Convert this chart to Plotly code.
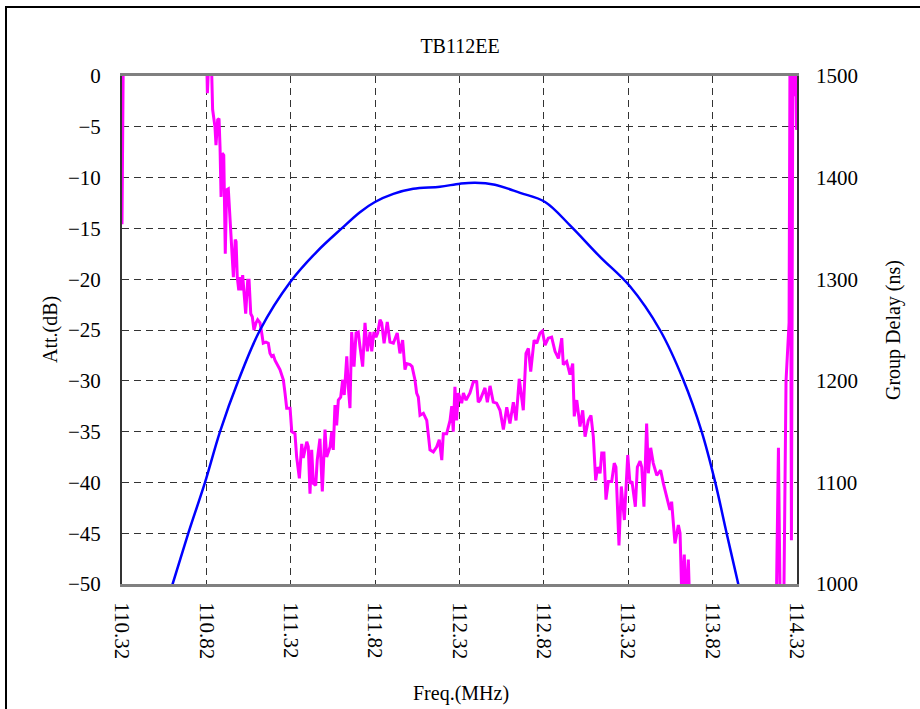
import plotly.graph_objects as go

# Attenuation (magenta), frequency in MHz, value in dB
att_freq = [
    110.320, 110.329, 110.818, 110.822, 110.826, 110.833, 110.844, 110.852, 110.857, 110.871,
    110.877, 110.887, 110.895, 110.901, 110.907, 110.914, 110.923, 110.932, 110.940, 110.950,
    110.960, 110.970, 110.980, 110.991, 110.996, 111.003, 111.012, 111.019, 111.027, 111.035,
    111.045, 111.053, 111.065, 111.073, 111.083, 111.092, 111.102, 111.114, 111.124, 111.138,
    111.148, 111.157, 111.173, 111.187, 111.197, 111.207, 111.217, 111.227, 111.256, 111.276,
    111.286, 111.296, 111.316, 111.326, 111.345, 111.355, 111.371, 111.385, 111.394, 111.415,
    111.424, 111.434, 111.444, 111.454, 111.468, 111.477, 111.493, 111.507, 111.523, 111.533,
    111.553, 111.563, 111.572, 111.582, 111.592, 111.602, 111.616, 111.628, 111.637, 111.652,
    111.661, 111.671, 111.681, 111.695, 111.707, 111.720, 111.730, 111.746, 111.760, 111.774,
    111.790, 111.800, 111.813, 111.825, 111.835, 111.849, 111.859, 111.873, 111.892, 111.908,
    111.928, 111.951, 111.967, 111.983, 111.997, 112.007, 112.027, 112.039, 112.056, 112.066,
    112.076, 112.086, 112.106, 112.126, 112.145, 112.165, 112.185, 112.200, 112.215, 112.224,
    112.244, 112.264, 112.274, 112.283, 112.293, 112.303, 112.313, 112.333, 112.343, 112.359,
    112.382, 112.402, 112.422, 112.431, 112.442, 112.471, 112.485, 112.501, 112.520, 112.540,
    112.560, 112.580, 112.600, 112.619, 112.639, 112.655, 112.674, 112.698, 112.714, 112.728,
    112.742, 112.762, 112.778, 112.797, 112.811, 112.827, 112.846, 112.866, 112.886, 112.906,
    112.926, 112.935, 112.955, 112.975, 112.991, 113.000, 113.015, 113.034, 113.050, 113.064,
    113.083, 113.099, 113.113, 113.127, 113.139, 113.153, 113.163, 113.176, 113.188, 113.202,
    113.222, 113.237, 113.247, 113.265, 113.279, 113.297, 113.317, 113.330, 113.342, 113.362,
    113.374, 113.390, 113.400, 113.413, 113.429, 113.439, 113.453, 113.468, 113.489, 113.512,
    113.528, 113.544, 113.557, 113.567, 113.577, 113.597, 113.617, 113.627, 113.637, 113.652,
    113.662, 113.676, 113.686, 113.745, 114.101, 114.195, 114.210, 114.222, 114.240, 114.255,
    114.273, 114.279, 114.287, 114.296, 114.305, 114.311, 114.317, 114.320,
]
att_db = [
    -14.6, 5.0, 5.0, 1.0, -1.7, 1.0, 1.0, 0.0, -3.3, -5.0,
    -6.8, -4.3, -4.2, -7.0, -11.9, -7.6, -7.8, -17.5, -11.2, -11.1,
    -14.5, -16.8, -19.8, -16.1, -16.3, -19.8, -21.1, -19.8, -21.1, -19.6,
    -21.4, -23.4, -20.1, -20.1, -23.4, -23.7, -25.0, -24.3, -24.0, -24.3,
    -25.3, -26.3, -26.2, -26.3, -27.3, -27.6, -27.5, -28.0, -28.9, -29.9,
    -31.2, -32.7, -32.7, -35.0, -35.2, -37.5, -39.6, -36.2, -37.6, -36.0,
    -36.5, -41.1, -36.8, -40.1, -40.3, -37.8, -35.7, -40.9, -34.8, -37.5,
    -36.5, -35.0, -36.8, -32.4, -34.4, -31.9, -31.6, -29.9, -31.4, -27.6,
    -30.6, -32.7, -25.2, -28.6, -25.3, -25.2, -26.6, -28.6, -24.3, -27.1,
    -25.2, -27.1, -25.2, -25.7, -25.3, -24.0, -24.3, -26.3, -24.2, -26.2,
    -26.3, -25.3, -27.3, -26.0, -28.9, -28.3, -28.4, -28.6, -29.9, -31.2,
    -31.6, -33.4, -33.2, -33.9, -36.8, -37.0, -36.5, -35.8, -37.8, -35.2,
    -35.2, -33.9, -32.5, -35.0, -30.6, -33.9, -31.2, -32.2, -31.2, -31.9,
    -31.2, -30.1, -30.1, -32.1, -31.9, -30.7, -32.1, -30.5, -32.1, -32.2,
    -32.9, -34.8, -32.6, -34.2, -32.1, -33.9, -29.8, -32.9, -27.3, -26.8,
    -29.1, -26.0, -26.3, -25.3, -25.1, -26.5, -25.8, -25.7, -27.1, -27.8,
    -25.8, -28.4, -28.1, -29.4, -28.3, -33.5, -31.9, -34.5, -32.9, -35.5,
    -33.9, -33.4, -35.5, -39.8, -38.5, -39.1, -37.1, -37.1, -41.7, -39.9,
    -39.9, -38.1, -38.5, -46.2, -40.4, -43.7, -37.3, -40.1, -39.9, -42.4,
    -38.5, -37.9, -38.5, -42.4, -34.2, -39.1, -36.6, -38.1, -39.3, -38.8,
    -40.1, -41.1, -41.9, -42.7, -41.9, -46.0, -44.2, -45.0, -51.0, -47.1,
    -52.0, -47.6, -53.0, -58.0, -58.0, -55.0, -36.6, -55.0, -55.0, -30.0,
    -24.3, 5.0, -45.7, 5.0, -2.0, 5.0, -5.3, -4.0,
]

# Group delay (blue), frequency in MHz, value in ns
gd_freq = [110.580, 110.620, 110.713, 110.812, 110.901, 111.009, 111.138, 111.316, 111.474,
           111.622, 111.730, 111.819, 111.928, 112.046, 112.204, 112.323, 112.412, 112.530,
           112.679, 112.827, 112.975, 113.153, 113.330, 113.508, 113.646, 113.755, 113.834,
           113.903, 113.972, 114.000]
gd_ns = [980, 1000, 1050, 1100, 1150, 1200, 1250, 1297, 1327,
         1350, 1366, 1376, 1384, 1389, 1391, 1394, 1395, 1393,
         1385, 1376, 1353, 1322, 1293, 1250, 1201, 1150, 1101,
         1050, 1000, 980]

x_ticks = [110.32, 110.82, 111.32, 111.82, 112.32, 112.82, 113.32, 113.82, 114.32]
x_labels = ["110.32", "110.82", "111.32", "111.82", "112.32", "112.82", "113.32", "113.82", "114.32"]
y_ticks = [0, -5, -10, -15, -20, -25, -30, -35, -40, -45, -50]
y2_ticks = [1000, 1100, 1200, 1300, 1400, 1500]

FONT = "Liberation Serif"

fig = go.Figure()
fig.add_trace(go.Scatter(x=att_freq, y=att_db, mode="lines",
                         line=dict(color="#FF00FF", width=3), yaxis="y", showlegend=False))
fig.add_trace(go.Scatter(x=gd_freq, y=gd_ns, mode="lines",
                         line=dict(color="#0000FF", width=2.5, shape="spline", smoothing=1.0),
                         yaxis="y2", showlegend=False))

grid = dict(showgrid=True, gridcolor="#333333", gridwidth=1, griddash="7px,5px")

fig.update_layout(
    width=920, height=709,
    margin=dict(l=122, r=123, t=76, b=125),
    paper_bgcolor="white", plot_bgcolor="white",
    font=dict(family=FONT, size=21, color="black"),
    title=dict(text="TB112EE", x=0.5, xanchor="center", y=1 - 46 / 709, yanchor="middle",
               font=dict(family=FONT, size=20, color="black")),
    xaxis=dict(range=[110.32, 114.32], tickmode="array", tickvals=x_ticks, ticktext=x_labels,
               tickangle=90, ticks="", ticklabelstandoff=11,
               showline=True, linecolor="#808080", linewidth=3, mirror=True, zeroline=False,
               **grid),
    yaxis=dict(range=[-50, 0], tickmode="array", tickvals=y_ticks, ticks="",
               ticklabelstandoff=15,
               showline=True, linecolor="#333333", linewidth=2, mirror=True, zeroline=False,
               **grid),
    yaxis2=dict(range=[1000, 1500], tickmode="array", tickvals=y2_ticks, ticks="",
                ticklabelstandoff=18, overlaying="y", side="right",
                showgrid=False, zeroline=False, showline=False),
    annotations=[
        dict(text="Att.(dB)", xref="paper", yref="paper", x=(50 - 122) / 675, y=0.5,
             textangle=-90, showarrow=False, xanchor="center", yanchor="middle",
             font=dict(family=FONT, size=20)),
        dict(text="Group Delay (ns)", xref="paper", yref="paper", x=(893 - 122) / 675, y=0.5,
             textangle=-90, showarrow=False, xanchor="center", yanchor="middle",
             font=dict(family=FONT, size=20)),
        dict(text="Freq.(MHz)", xref="paper", yref="paper", x=(461 - 122) / 675,
             y=(584 - 693) / 508, showarrow=False, xanchor="center", yanchor="middle",
             font=dict(family=FONT, size=20)),
    ],
    shapes=[
        dict(type="rect", xref="paper", yref="paper",
             x0=(6 - 122) / 675, x1=(1000 - 122) / 675,
             y0=(584 - 800) / 508, y1=(584 - 7) / 508,
             line=dict(color="black", width=2), fillcolor="rgba(0,0,0,0)", layer="below"),
    ],
)

fig.write_html("out.html", config={"displayModeBar": False},
               post_script="document.body.style.margin='0';")
